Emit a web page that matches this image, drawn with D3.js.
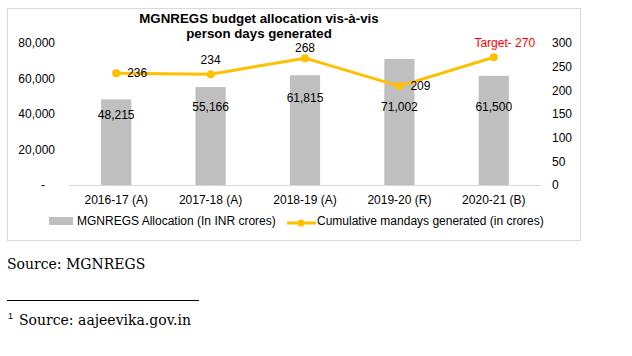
<!DOCTYPE html>
<html><head><meta charset="utf-8">
<script src="https://cdn.jsdelivr.net/npm/d3@7"></script>
<style>body{margin:0;background:#fff}svg{display:block}</style>
</head><body>
<svg id="c" width="632" height="356"></svg>
<script>
const categories = ["2016-17 (A)", "2017-18 (A)", "2018-19 (A)", "2019-20 (R)", "2020-21 (B)"];
const allocation = [48215, 55166, 61815, 71002, 61500];
const mandays = [236, 234, 268, 209, 270];
const mandayLabels = ["236", "234", "268", "209", "Target- 270"];
const leftTicks = [0, 20000, 40000, 60000, 80000];
const rightTicks = [0, 50, 100, 150, 200, 250, 300];
const titleLines = ["MGNREGS budget allocation vis-à-vis", "person days generated"];
const legendLabels = ["MGNREGS Allocation (In INR crores)", "Cumulative mandays generated (in crores)"];

const svg = d3.select("#c");
const F = "'Liberation Sans', Arial, sans-serif";
const SERIF = "'DejaVu Serif', Georgia, serif";

// chart border
svg.append("rect").attr("x", 7.5).attr("y", 8.5).attr("width", 573).attr("height", 232)
  .attr("fill", "#fff").attr("stroke", "#d9d9d9").attr("stroke-width", 1);

const x = d3.scaleBand().domain(categories).range([69, 541]).paddingInner(0.68).paddingOuter(0.34);
const yL = d3.scaleLinear().domain([0, 80000]).range([185, 43]);
const yR = d3.scaleLinear().domain([0, 300]).range([185, 43]);

// title
svg.append("g").selectAll("text").data(titleLines).join("text")
  .attr("x", 259).attr("y", (d, i) => 23 + i * 15)
  .attr("text-anchor", "middle").attr("font-family", F).attr("font-weight", "bold")
  .attr("font-size", 13.3).attr("fill", "#000").text(d => d);

// left axis
const axL = d3.axisLeft(yL).tickValues(leftTicks).tickSize(0).tickPadding(0)
  .tickFormat(d => d === 0 ? "-" : d3.format(",")(d));
const gL = svg.append("g").attr("transform", "translate(55,0)").call(axL);
gL.select(".domain").remove();
gL.selectAll("text").attr("font-family", F).attr("font-size", 12).attr("fill", "#000");
gL.selectAll(".tick").filter(d => d === 0).select("text").attr("dx", -10);

// right axis
const axR = d3.axisRight(yR).tickValues(rightTicks).tickSize(0).tickPadding(0);
const gR = svg.append("g").attr("transform", "translate(552,0)").call(axR);
gR.select(".domain").remove();
gR.selectAll("text").attr("font-family", F).attr("font-size", 12).attr("fill", "#000");

// bars
svg.append("g").selectAll("rect").data(allocation).join("rect")
  .attr("x", (d, i) => x(categories[i])).attr("width", x.bandwidth())
  .attr("y", d => yL(d)).attr("height", d => yL(0) - yL(d)).attr("fill", "#bfbfbf");

// baseline
svg.append("line").attr("x1", 69).attr("x2", 541).attr("y1", 185.5).attr("y2", 185.5)
  .attr("stroke", "#d9d9d9").attr("stroke-width", 1);

// x axis labels
const axB = d3.axisBottom(x).tickSize(0).tickPadding(0);
const gB = svg.append("g").attr("transform", "translate(0,195)").call(axB);
gB.select(".domain").remove();
gB.selectAll("text").attr("font-family", F).attr("font-size", 12).attr("fill", "#000");

// bar labels
const barLabelY = [115, 107, 98, 107, 107];
svg.append("g").selectAll("text").data(allocation).join("text")
  .attr("x", (d, i) => x(categories[i]) + x.bandwidth() / 2)
  .attr("y", (d, i) => barLabelY[i]).attr("dy", "0.35em")
  .attr("text-anchor", "middle").attr("font-family", F).attr("font-size", 12).attr("fill", "#000")
  .text(d => d3.format(",")(d));

// line
const cx = i => x(categories[i]) + x.bandwidth() / 2;
const line = d3.line().x((d, i) => cx(i)).y(d => yR(d));
svg.append("path").datum(mandays).attr("d", line).attr("fill", "none")
  .attr("stroke", "#ffc000").attr("stroke-width", 3).attr("stroke-linejoin", "round");
svg.append("g").selectAll("circle").data(mandays).join("circle")
  .attr("cx", (d, i) => cx(i)).attr("cy", d => yR(d)).attr("r", 4).attr("fill", "#ffc000");

// line labels
const labelPos = ["right", "above", "above", "right", "above"];
svg.append("g").selectAll("text").data(mandays).join("text")
  .attr("x", (d, i) => labelPos[i] === "right" ? cx(i) + 11 : cx(i) + (i === 4 ? 11 : 0))
  .attr("y", (d, i) => labelPos[i] === "right" ? yR(d) : yR(d) - (i === 2 ? 10 : 14))
  .attr("dy", "0.35em")
  .attr("text-anchor", (d, i) => labelPos[i] === "right" ? "start" : "middle")
  .attr("font-family", F).attr("font-size", 12)
  .attr("fill", (d, i) => i === 4 ? "#ff0000" : "#000")
  .text((d, i) => mandayLabels[i]);

// legend
const lg = svg.append("g");
lg.append("rect").attr("x", 49).attr("y", 217).attr("width", 24).attr("height", 8).attr("fill", "#bfbfbf");
lg.append("text").attr("x", 77).attr("y", 221).attr("dy", "0.35em").attr("font-family", F)
  .attr("font-size", 12).attr("fill", "#000").text(legendLabels[0]);
lg.append("line").attr("x1", 287).attr("x2", 316).attr("y1", 223).attr("y2", 223)
  .attr("stroke", "#ffc000").attr("stroke-width", 3);
lg.append("circle").attr("cx", 301).attr("cy", 223).attr("r", 3.5).attr("fill", "#ffc000");
lg.append("text").attr("x", 317).attr("y", 221).attr("dy", "0.35em").attr("font-family", F)
  .attr("font-size", 12).attr("fill", "#000").text(legendLabels[1]);

// source text
svg.append("text").attr("x", 7).attr("y", 269).attr("font-family", SERIF).attr("font-size", 14)
  .attr("fill", "#000").text("Source: MGNREGS");
svg.append("line").attr("x1", 7).attr("x2", 199).attr("y1", 300.5).attr("y2", 300.5)
  .attr("stroke", "#000").attr("stroke-width", 1);
const fn = svg.append("text").attr("x", 8).attr("y", 325).attr("font-family", SERIF)
  .attr("font-size", 14).attr("fill", "#000");
fn.append("tspan").attr("font-family", F).attr("font-size", 9).attr("dy", -6).text("1");
fn.append("tspan").attr("dy", 6).attr("dx", 6).text("Source: aajeevika.gov.in");
</script>
</body></html>
